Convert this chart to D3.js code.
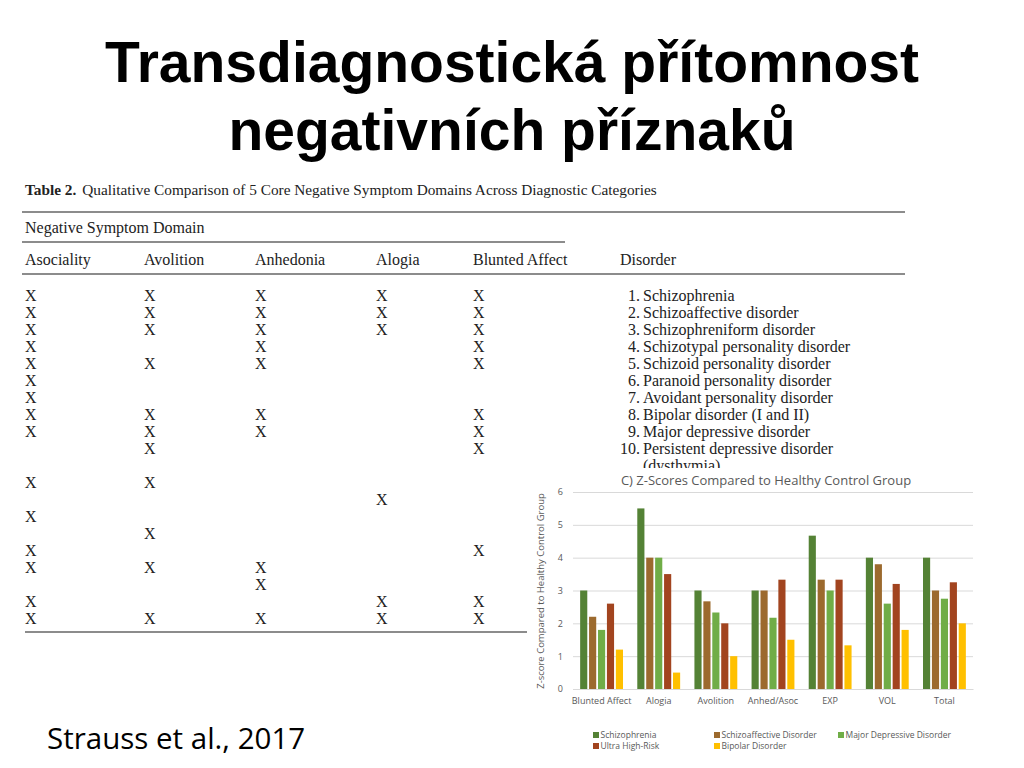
<!DOCTYPE html>
<meta charset="utf-8">
<body style="margin:0; background:#fff">
<script src="https://cdn.jsdelivr.net/npm/d3@7"></script>
<div id="slide"></div>
<script>

 // ---- chart data ----
 const categories = ["Blunted Affect", "Alogia", "Avolition", "Anhed/Asoc", "EXP", "VOL", "Total"];
 const groups = ["Schizophrenia", "Schizoaffective Disorder", "Major Depressive Disorder",
                 "Ultra High-Risk", "Bipolar Disorder"];
 const schizophrenia   = [3.0, 5.5, 3.0, 3.0, 4.67, 4.0, 4.0];
 const schizoaffective = [2.2, 4.0, 2.67, 3.0, 3.33, 3.8, 3.0];
 const majorDepressive = [1.8, 4.0, 2.33, 2.17, 3.0, 2.6, 2.75];
 const ultraHighRisk   = [2.6, 3.5, 2.0, 3.33, 3.33, 3.2, 3.25];
 const bipolar         = [1.2, 0.5, 1.0, 1.5, 1.33, 1.8, 2.0];
 const yTicks = [0, 1, 2, 3, 4, 5, 6];

 // ---- table data ----
 const domains = ["Asociality", "Avolition", "Anhedonia", "Alogia", "Blunted Affect"];
 const disorders = ["Schizophrenia", "Schizoaffective disorder", "Schizophreniform disorder",
                    "Schizotypal personality disorder", "Schizoid personality disorder",
                    "Paranoid personality disorder", "Avoidant personality disorder",
                    "Bipolar disorder (I and II)", "Major depressive disorder",
                    "Persistent depressive disorder"];
 // one row per disorder, 1 = "X"
 const marks = [
     [1, 1, 1, 1, 1],
     [1, 1, 1, 1, 1],
     [1, 1, 1, 1, 1],
     [1, 0, 1, 0, 1],
     [1, 1, 1, 0, 1],
     [1, 0, 0, 0, 0],
     [1, 0, 0, 0, 0],
     [1, 1, 1, 0, 1],
     [1, 1, 1, 0, 1],
     [0, 1, 0, 0, 1],
     [1, 1, 0, 0, 0],
     [0, 0, 0, 1, 0],
     [1, 0, 0, 0, 0],
     [0, 1, 0, 0, 0],
     [1, 0, 0, 0, 1],
     [1, 1, 1, 0, 0],
     [0, 0, 1, 0, 0],
     [1, 0, 0, 1, 1],
     [1, 1, 1, 1, 1],
 ];

 const series = [schizophrenia, schizoaffective, majorDepressive, ultraHighRisk, bipolar];
 const colors = ["#548235", "#9c6a2e", "#70ad47", "#a2441f", "#ffc000"];

 const svg = d3.select("#slide").append("svg")
               .attr("width", 1024)
               .attr("height", 768);

 // ---- slide title ----
 const title = svg.append("text")
                  .attr("text-anchor", "middle")
                  .attr("font-family", "Liberation Sans, Arial, sans-serif")
                  .attr("font-weight", "bold")
                  .attr("font-size", 57)
                  .attr("fill", "#000");
 title.append("tspan").attr("x", 512).attr("y", 82).text("Transdiagnostická přítomnost");
 title.append("tspan").attr("x", 512).attr("y", 150).text("negativních příznaků");

 // ---- table (serif, like the scanned paper) ----
 const tbl = svg.append("g")
                .attr("font-family", "Liberation Serif, Times New Roman, serif")
                .attr("font-size", 16)
                .attr("fill", "#222");

 const cap = tbl.append("text").attr("x", 25).attr("y", 195).attr("font-size", 15.3);
 cap.append("tspan").attr("font-weight", "bold").text("Table 2.");
 cap.append("tspan").attr("dx", 6).text("Qualitative Comparison of 5 Core Negative Symptom Domains Across Diagnostic Categories");

 const rule = (x1, x2, y) => tbl.append("line")
     .attr("x1", x1).attr("x2", x2).attr("y1", y).attr("y2", y)
     .attr("stroke", "#666").attr("stroke-width", 1.3);
 rule(22, 905, 212);
 rule(22, 565, 242);
 rule(22, 905, 274);
 rule(25, 530, 632);

 tbl.append("text").attr("x", 25).attr("y", 233).text("Negative Symptom Domain");

 const colX = d3.scaleOrdinal()
                .domain(domains)
                .range([25, 144, 255, 376, 473]);

 tbl.selectAll(".domain-head")
    .data(domains)
    .enter()
    .append("text")
    .classed("domain-head", true)
    .attr("x", d => colX(d))
    .attr("y", 265)
    .text(d => d);

 tbl.append("text").attr("x", 620).attr("y", 265).text("Disorder");

 // row slot -> baseline; slot 10 is taken by "(dysthymia)"
 const rowY = d3.scaleLinear().domain([0, 1]).range([301, 318]);
 const slot = i => i < 10 ? i : i + 1;

 const cells = [];
 marks.forEach((row, i) => row.forEach((m, j) => {
     if (m) cells.push({row: i, col: domains[j]});
 }));

 tbl.selectAll(".mark")
    .data(cells)
    .enter()
    .append("text")
    .classed("mark", true)
    .attr("x", d => colX(d.col))
    .attr("y", d => rowY(slot(d.row)))
    .text("X");

 svg.append("clipPath").attr("id", "listClip")
    .append("rect").attr("x", 580).attr("y", 276).attr("width", 400).attr("height", 192);

 const list = tbl.append("g").attr("clip-path", "url(#listClip)");
 list.selectAll(".num")
     .data(disorders)
     .enter()
     .append("text")
     .attr("x", 640)
     .attr("y", (d, i) => rowY(i))
     .attr("text-anchor", "end")
     .text((d, i) => (i + 1) + ".");
 list.selectAll(".name")
     .data(disorders)
     .enter()
     .append("text")
     .attr("x", 643)
     .attr("y", (d, i) => rowY(i))
     .text(d => d);
 list.append("text").attr("x", 643).attr("y", rowY(10)).text("(dysthymia)");

 // ---- bar chart ----
 const chart = svg.append("g")
                  .attr("font-family", "Open Sans, Lato, sans-serif")
                  .attr("fill", "#595959");

 chart.append("rect")
      .attr("x", 527).attr("y", 468)
      .attr("width", 497).attr("height", 300)
      .attr("fill", "#fff");

 const x0 = d3.scaleBand()
              .domain(categories)
              .range([573, 973])
              .paddingInner(0.25)
              .paddingOuter(0.125);
 const x1 = d3.scaleBand()
              .domain(groups)
              .range([0, x0.bandwidth()])
              .paddingInner(0.2);
 const y = d3.scaleLinear()
             .domain([0, 6])
             .range([689, 492]);

 const yAxis = d3.axisLeft(y)
                 .tickValues(yTicks)
                 .tickFormat(d3.format("d"))
                 .tickSize(-400)
                 .tickPadding(10);
 const yg = chart.append("g")
                 .attr("transform", "translate(573,0)")
                 .call(yAxis);
 yg.select(".domain").remove();
 yg.selectAll(".tick line").attr("stroke", "#d9d9d9");
 yg.selectAll(".tick text")
   .attr("fill", "#595959")
   .attr("font-size", 9)
   .attr("font-family", "Open Sans, Lato, sans-serif");

 const xAxis = d3.axisBottom(x0).tickSize(0).tickPadding(9);
 const xg = chart.append("g")
                 .attr("transform", "translate(0,689)")
                 .call(xAxis);
 xg.select(".domain").attr("stroke", "#d9d9d9");
 xg.selectAll(".tick text")
   .attr("fill", "#595959")
   .attr("font-size", 9)
   .attr("font-family", "Open Sans, Lato, sans-serif");

 const barG = chart.selectAll(".cat")
                   .data(categories)
                   .enter()
                   .append("g")
                   .classed("cat", true)
                   .attr("transform", d => "translate(" + x0(d) + ",0)");

 barG.selectAll("rect")
     .data((c, ci) => groups.map((g, gi) => ({group: g, value: series[gi][ci], color: colors[gi]})))
     .enter()
     .append("rect")
     .attr("x", d => x1(d.group))
     .attr("width", x1.bandwidth())
     .attr("y", d => y(d.value))
     .attr("height", d => y(0) - y(d.value))
     .attr("fill", d => d.color);

 chart.append("text")
      .attr("x", 766)
      .attr("y", 485)
      .attr("text-anchor", "middle")
      .attr("font-size", 13)
      .text("C) Z-Scores Compared to Healthy Control Group");

 chart.append("text")
      .attr("transform", "translate(544,591) rotate(-90)")
      .attr("text-anchor", "middle")
      .attr("font-size", 9.5)
      .text("Z-score Compared to Healthy Control Group");

 // legend, two rows like the original
 const legendPos = [[593, 735], [714, 735], [838, 735], [593, 746], [714, 746]];
 const leg = chart.selectAll(".legend")
                  .data(groups)
                  .enter()
                  .append("g")
                  .classed("legend", true)
                  .attr("transform", (d, i) => "translate(" + legendPos[i][0] + "," + legendPos[i][1] + ")");
 leg.append("rect")
    .attr("x", 0).attr("y", -3)
    .attr("width", 6).attr("height", 6)
    .attr("fill", (d, i) => colors[i]);
 leg.append("text")
    .attr("x", 7.5)
    .attr("y", 3)
    .attr("font-size", 8.5)
    .text(d => d);

 // ---- citation ----
 svg.append("text")
    .attr("x", 47)
    .attr("y", 749)
    .attr("font-family", "Open Sans, Lato, sans-serif")
    .attr("font-size", 29.5)
    .attr("fill", "#000")
    .text("Strauss et al., 2017");

</script>
</body>
